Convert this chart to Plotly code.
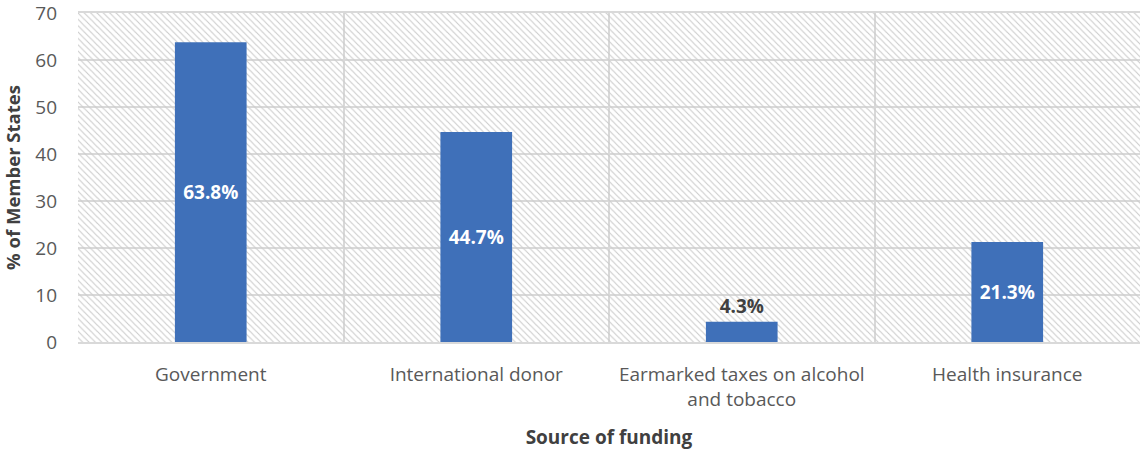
import plotly.graph_objects as go

categories = ["Government", "International donor", "Earmarked taxes on alcohol<br>and tobacco", "Health insurance"]
values = [63.8, 44.7, 4.3, 21.3]
labels = ["63.8%", "44.7%", "4.3%", "21.3%"]
y_max = 70
y_ticks = [0, 10, 20, 30, 40, 50, 60, 70]

FONT = "Open Sans"
GRID = "#d9d9d9"

fig = go.Figure()

# hatched plot-area background (decoration), on the base (hidden) x axis
fig.add_trace(go.Bar(
    x=[0.5], y=[y_max], width=[1], xaxis="x", yaxis="y",
    marker=dict(color="rgba(0,0,0,0)", line=dict(width=0),
                pattern=dict(shape="\\", fillmode="replace", fgcolor="#cccccc", size=4.5, solidity=0.25)),
    hoverinfo="skip", showlegend=False,
))

fig.add_trace(go.Bar(
    x=categories, y=values, text=labels, xaxis="x2", yaxis="y",
    textposition=["inside", "inside", "outside", "inside"],
    insidetextanchor="middle",
    textfont=dict(family=FONT, size=19, color=["white", "white", "#404040", "white"], weight="bold"),
    marker=dict(color="#3F70B9", line=dict(width=0)),
    cliponaxis=False, showlegend=False,
))

fig.update_layout(
    width=1145, height=450,
    margin=dict(l=78, r=5, t=13, b=108),
    paper_bgcolor="white", plot_bgcolor="white",
    bargap=0.73,
    font=dict(family=FONT, color="#595959", size=19),
    xaxis=dict(range=[0, 1], visible=False, fixedrange=True),
    xaxis2=dict(
        overlaying="x", side="bottom", anchor="y",
        type="category", tickson="boundaries", showgrid=True, gridcolor=GRID, gridwidth=2,
        showline=True, linecolor=GRID, linewidth=2, mirror=True,
        ticks="", tickfont=dict(size=19, color="#595959"), ticklabelstandoff=14,
        title=dict(text="<b>Source of funding</b>", font=dict(size=19, color="#404040"), standoff=20),
        range=[-0.5, 3.5],
    ),
    yaxis=dict(
        range=[0, y_max], tickvals=y_ticks, showgrid=True, gridcolor=GRID, gridwidth=2,
        zeroline=False, ticks="", tickfont=dict(size=19, color="#595959"), ticklabelstandoff=20,
        ticklabeloverflow="allow", automargin=False,
        title=dict(text="<b>% of Member States</b>", font=dict(size=18.5, color="#404040"), standoff=14),
    ),
)

fig.write_html("out.html", config={"displayModeBar": False},
               post_script="document.body.style.margin='0';")
